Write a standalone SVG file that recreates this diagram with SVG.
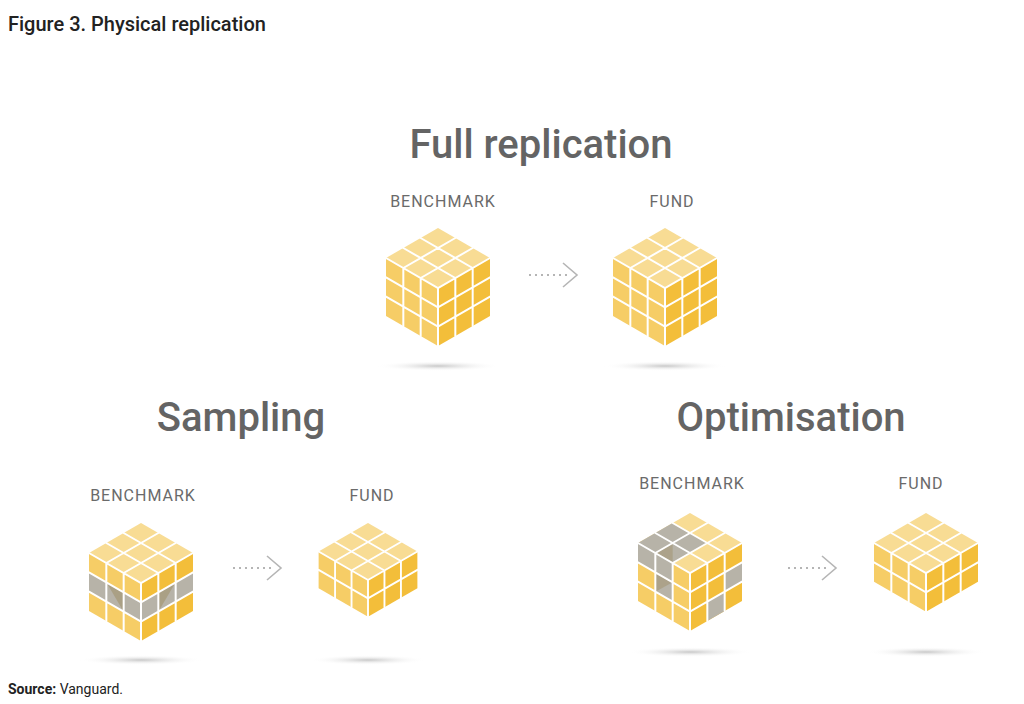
<svg xmlns="http://www.w3.org/2000/svg" xmlns:xlink="http://www.w3.org/1999/xlink" width="1024" height="704" viewBox="0 0 1024 704">
<style>
.h{font-family:Roboto,"Liberation Sans",sans-serif;font-weight:500;font-size:40px;fill:#646464;text-anchor:middle}
.l{font-family:Roboto,"Liberation Sans",sans-serif;font-size:16px;fill:#6a6a6a;text-anchor:middle;letter-spacing:1px}
.top{fill:#f8dc94}.lf{fill:#f6cd66}.rf{fill:#f3be3a}
.g{fill:#b7b3a8}
.grid{stroke:#fff;stroke-width:2;fill:none;stroke-linecap:round}
.arr{stroke:#b5b5b5;stroke-width:1.6;fill:none}
.dot{stroke:#b5b5b5;stroke-width:2.2;stroke-dasharray:2 4;fill:none}
</style>
<defs>
<radialGradient id="sh" cx="0.5" cy="0.5" r="0.5">
<stop offset="0" stop-color="#c8c8c8"/><stop offset="1" stop-color="#fff" stop-opacity="0"/>
</radialGradient>
<g id="faces3">
<polygon class="top" points="0,0 -52,-30 0,-60 52,-30"/>
<polygon class="lf" points="-52,-30 0,0 0,58 -52,28"/>
<polygon class="rf" points="0,0 52,-30 52,28 0,58"/>
</g>
<g id="grid3">
<path class="grid" d="M-34.67,-20V38M-17.33,-10V48M17.33,-10V48M34.67,-20V38M-52,-10.67L0,19.33L52,-10.67M-52,8.67L0,38.67L52,8.67M-17.33,-10L34.67,-40M-34.67,-20L17.33,-50M17.33,-10L-34.67,-40M34.67,-20L-17.33,-50M-52,-30L0,0L52,-30M0,0V58"/>
</g>
<g id="faces2">
<polygon class="top" points="0,0 -52,-30 0,-60 52,-30"/>
<polygon class="lf" points="-52,-30 0,0 0,38.67 -52,8.67"/>
<polygon class="rf" points="0,0 52,-30 52,8.67 0,38.67"/>
</g>
<g id="grid2">
<path class="grid" d="M-34.67,-20V18.67M-17.33,-10V28.67M17.33,-10V28.67M34.67,-20V18.67M-52,-10.67L0,19.33L52,-10.67M-17.33,-10L34.67,-40M-34.67,-20L17.33,-50M17.33,-10L-34.67,-40M34.67,-20L-17.33,-50M-52,-30L0,0L52,-30M0,0V38.67"/>
</g>
</defs>
<rect width="1024" height="704" fill="#fff"/>
<text x="8" y="31" font-family="Roboto,'Liberation Sans',sans-serif" font-weight="500" font-size="20" fill="#222">Figure 3. Physical replication</text>
<text class="h" x="541" y="158">Full replication</text>
<text class="h" x="241" y="431">Sampling</text>
<text class="h" x="791" y="431">Optimisation</text>
<g id="full-benchmark">
<text class="l" x="443" y="207">BENCHMARK</text>
<ellipse cx="438" cy="366" rx="62" ry="5" fill="url(#sh)"/>
<g transform="translate(438,288)"><use xlink:href="#faces3"/><use xlink:href="#grid3"/></g>
</g>
<g id="full-fund">
<text class="l" x="672" y="207">FUND</text>
<ellipse cx="665" cy="366" rx="62" ry="5" fill="url(#sh)"/>
<g transform="translate(665,288)"><use xlink:href="#faces3"/><use xlink:href="#grid3"/></g>
</g>
<g id="sampling-benchmark">
<text class="l" x="143" y="501">BENCHMARK</text>
<ellipse cx="141" cy="660" rx="62" ry="5" fill="url(#sh)"/>
<g transform="translate(141,583)"><use xlink:href="#faces3"/>
<polygon class="g" points="-52,-10.67 0,19.33 0,38.67 -52,8.67"/>
<polygon class="g" points="0,19.33 52,-10.67 52,8.67 0,38.67"/>
<polygon fill="#9c8a5c" opacity="0.45" points="-34.67,-0.67 -17.33,9.33 -17.33,28.67"/>
<polygon fill="#9c8a5c" opacity="0.45" points="17.33,9.33 34.67,-0.67 17.33,28.67"/>
<use xlink:href="#grid3"/></g>
</g>
<g id="sampling-fund">
<text class="l" x="372" y="501">FUND</text>
<ellipse cx="368" cy="660" rx="58" ry="5" fill="url(#sh)"/>
<g transform="translate(368,580) scale(0.95)"><use xlink:href="#faces2"/><use xlink:href="#grid2"/></g>
</g>
<g id="opt-benchmark">
<text class="l" x="692" y="489">BENCHMARK</text>
<ellipse cx="690" cy="652" rx="62" ry="5" fill="url(#sh)"/>
<g transform="translate(690,573)"><use xlink:href="#faces3"/>
<polygon class="g" points="-17.33,-10 -52,-30 -17.33,-50 17.33,-30"/>
<polygon class="g" points="-52,-30 -34.67,-20 -34.67,-0.67 -52,-10.67"/>
<polygon class="g" points="-34.67,-20 -17.33,-10 -17.33,9.33 -34.67,-0.67"/>
<polygon class="g" points="-34.67,-0.67 -17.33,9.33 -17.33,28.67 -34.67,18.67"/>
<polygon class="g" points="34.67,-0.67 52,-10.67 52,8.67 34.67,18.67"/>
<polygon class="g" points="17.33,28.67 34.67,18.67 34.67,38 17.33,48"/>
<polygon fill="#9c8a5c" opacity="0.4" points="-34.67,-20 -17.33,-30 -17.33,-10"/>
<polygon fill="#9c8a5c" opacity="0.4" points="-34.67,-0.67 -17.33,9.33 -34.67,18.67"/>
<use xlink:href="#grid3"/></g>
</g>
<g id="opt-fund">
<text class="l" x="921" y="489">FUND</text>
<ellipse cx="926" cy="652" rx="60" ry="5" fill="url(#sh)"/>
<g transform="translate(926,573)"><use xlink:href="#faces2"/><use xlink:href="#grid2"/></g>
</g>
<g id="connectors">
<path class="dot" d="M529,275H568"/><path class="arr" d="M563,263L577,275L563,287"/>
<path class="dot" d="M233,568H272"/><path class="arr" d="M267,556L281,568L267,580"/>
<path class="dot" d="M788,568H827"/><path class="arr" d="M822,556L836,568L822,580"/>
</g>
<text x="8" y="694" font-family="Roboto,'Liberation Sans',sans-serif" font-size="14" fill="#222"><tspan font-weight="bold">Source:</tspan> Vanguard.</text>
</svg>
